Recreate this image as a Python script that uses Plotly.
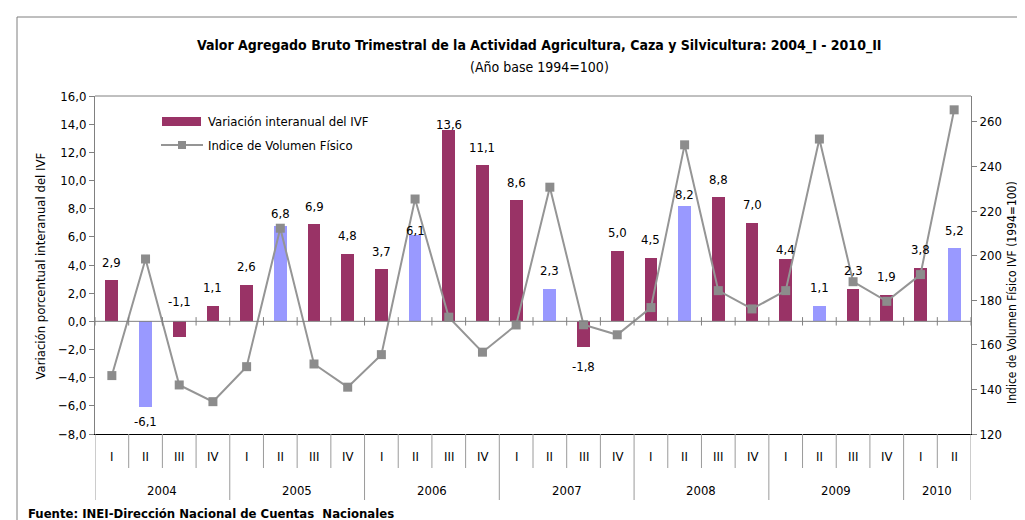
import plotly.graph_objects as go

# ---------------- data ----------------
years = ["2004", "2005", "2006", "2007", "2008", "2009", "2010"]
year_quarter_counts = [4, 4, 4, 4, 4, 4, 2]
quarters = ["I", "II", "III", "IV"] * 6 + ["I", "II"]
var_ivf = [2.9, -6.1, -1.1, 1.1, 2.6, 6.8, 6.9, 4.8, 3.7, 6.1, 13.6, 11.1, 8.6,
           2.3, -1.8, 5.0, 4.5, 8.2, 8.8, 7.0, 4.4, 1.1, 2.3, 1.9, 3.8, 5.2]
ivf = [146.2, 198.5, 142.0, 134.5, 150.2, 212.3, 151.4, 141.0, 155.6, 225.4,
       172.4, 156.7, 168.9, 230.7, 169.0, 164.5, 176.7, 249.7, 184.3, 176.1,
       184.3, 252.3, 188.3, 179.5, 191.5, 265.4]
left_ticks = [-8, -6, -4, -2, 0, 2, 4, 6, 8, 10, 12, 14, 16]
right_ticks = [120, 140, 160, 180, 200, 220, 240, 260]

# ---------------- style ----------------
FONT = "DejaVu Sans Condensed, Liberation Sans Narrow, Arial Narrow, sans-serif"
MAROON = "#993366"
LILAC = "#9999FF"
GRAY = "#8c8c8c"
AXGRAY = "#808080"

# label pixel nudges (layout only)
label_shift = {1: -14, 2: 35, 5: 12, 9: 5, 10: 5, 14: -20, 17: 11, 20: 10}

n = len(var_ivf)
xs = list(range(n))
bar_colors = [LILAC if q == "II" else MAROON for q in quarters]

fig = go.Figure()
fig.add_trace(go.Bar(x=xs, y=var_ivf, marker=dict(color=bar_colors, line=dict(width=0)),
                     width=0.38, showlegend=False, hoverinfo="y"))
fig.add_trace(go.Scatter(x=xs, y=ivf, yaxis="y2", mode="lines+markers",
                         line=dict(color="#959595", width=2),
                         marker=dict(symbol="square", size=9, color=GRAY),
                         showlegend=False))

ann = []
for i, v in enumerate(var_ivf):
    s = label_shift.get(i, 18 if v >= 0 else -17)
    ann.append(dict(x=i, y=v, xref="x", yref="y", text=f"{v:.1f}".replace(".", ","),
                    showarrow=False, yshift=s, font=dict(family=FONT, size=13, color="#000"),
                    yanchor="middle"))

L, R, T, B = 87, 963, 88, 426
def px(xp): return (xp - L) / (R - L)
def py(yp): return (B - yp) / (B - T)

for i, q in enumerate(quarters):
    ann.append(dict(x=i, y=py(448), xref="x", yref="paper", text=q, showarrow=False,
                    font=dict(family=FONT, size=13, color="#000"), yanchor="middle"))
shapes = []
start = 0
boundaries = [0]
for yr, c in zip(years, year_quarter_counts):
    ann.append(dict(x=start + (c - 1) / 2, y=py(482), xref="x", yref="paper", text=yr,
                    showarrow=False, font=dict(family=FONT, size=13, color="#000"),
                    yanchor="middle"))
    start += c
    boundaries.append(start)

for k in range(n + 1):
    long_ = k in boundaries
    shapes.append(dict(type="line", xref="x", yref="paper", x0=k - 0.5, x1=k - 0.5,
                       y0=0, y1=py(492) if long_ else py(460),
                       line=dict(color="#9a9a9a", width=1)))
    shapes.append(dict(type="line", xref="x", yref="y", x0=k - 0.5, x1=k - 0.5,
                       y0=-0.3, y1=0.3, line=dict(color=AXGRAY, width=1)))

shapes.append(dict(type="line", xref="paper", yref="y", x0=0, x1=1, y0=0, y1=0,
                   line=dict(color=AXGRAY, width=1)))
shapes.append(dict(type="line", xref="paper", yref="paper", x0=0, x1=1, y0=1, y1=1,
                   line=dict(color=AXGRAY, width=1)))
shapes.append(dict(type="rect", xref="paper", yref="paper", x0=px(9), x1=px(1040),
                   y0=py(540), y1=py(9), line=dict(color="#7f7f7f", width=1),
                   fillcolor="rgba(0,0,0,0)", layer="below"))

# legend (manual)
shapes.append(dict(type="rect", xref="paper", yref="paper", x0=px(154), x1=px(193),
                   y0=py(118), y1=py(109), fillcolor=MAROON, line=dict(width=0)))
shapes.append(dict(type="line", xref="paper", yref="paper", x0=px(153), x1=px(195),
                   y0=py(137), y1=py(137), line=dict(color="#959595", width=2)))
shapes.append(dict(type="rect", xref="paper", yref="paper", x0=px(170), x1=px(178),
                   y0=py(141), y1=py(133), fillcolor=GRAY, line=dict(width=0)))
ann.append(dict(x=px(198), y=py(113), xref="paper", yref="paper", xanchor="left",
                yanchor="middle", text="Variación interanual del IVF", showarrow=False,
                font=dict(family=FONT, size=13, color="#000")))
ann.append(dict(x=px(198), y=py(137), xref="paper", yref="paper", xanchor="left",
                yanchor="middle", text="Indice de Volumen Físico", showarrow=False,
                font=dict(family=FONT, size=13, color="#000")))

ann.append(dict(x=px(531), y=py(38), xref="paper", yref="paper", yanchor="middle",
                text="<b>Valor Agregado Bruto Trimestral de la Actividad Agricultura, Caza y Silvicultura: 2004_I - 2010_II</b>",
                showarrow=False, font=dict(family=FONT, size=14, color="#000")))
ann.append(dict(x=px(531), y=py(59), xref="paper", yref="paper", yanchor="middle",
                text="(Año base 1994=100)", showarrow=False,
                font=dict(family=FONT, size=14, color="#000")))
ann.append(dict(x=px(22), y=py(258), xref="paper", yref="paper", textangle=-90,
                text="Variación porcentual interanual del IVF", showarrow=False,
                font=dict(family=FONT, size=13, color="#000")))
ann.append(dict(x=px(1013), y=py(285), xref="paper", yref="paper", textangle=-90,
                text="Indice de Volumen Físico IVF (1994=100)", showarrow=False,
                font=dict(family=FONT, size=12, color="#000")))
ann.append(dict(x=px(18), y=py(505), xref="paper", yref="paper", xanchor="left",
                yanchor="middle", text="<b>Fuente: INEI-Dirección Nacional de Cuentas  Nacionales</b>",
                showarrow=False, font=dict(family=FONT, size=13, color="#000")))

fig.update_layout(
    width=1025, height=520,
    margin=dict(l=L, r=1025 - R, t=T, b=520 - B, autoexpand=False),
    paper_bgcolor="white", plot_bgcolor="white",
    separators=",.",
    font=dict(family=FONT, size=13, color="#000"),
    xaxis=dict(range=[-0.5, n - 0.5], showticklabels=False, ticks="", showgrid=False,
               zeroline=False, showline=True, linecolor="#000", linewidth=1),
    yaxis=dict(range=[-8, 16], tickvals=left_ticks, tickformat=".1f", showgrid=False,
               zeroline=False, showline=True, linecolor=AXGRAY, linewidth=1,
               ticks="outside", ticklen=5, tickcolor=AXGRAY,
               tickfont=dict(family=FONT, size=13, color="#000")),
    yaxis2=dict(range=[120, 271.6], tickvals=right_ticks, overlaying="y", side="right",
                showgrid=False, zeroline=False, showline=True, linecolor=AXGRAY,
                linewidth=1, ticks="outside", ticklen=5, tickcolor=AXGRAY,
                tickfont=dict(family=FONT, size=13, color="#000")),
    annotations=ann, shapes=shapes, showlegend=False, bargap=0,
)

fig.write_html("out.html")
